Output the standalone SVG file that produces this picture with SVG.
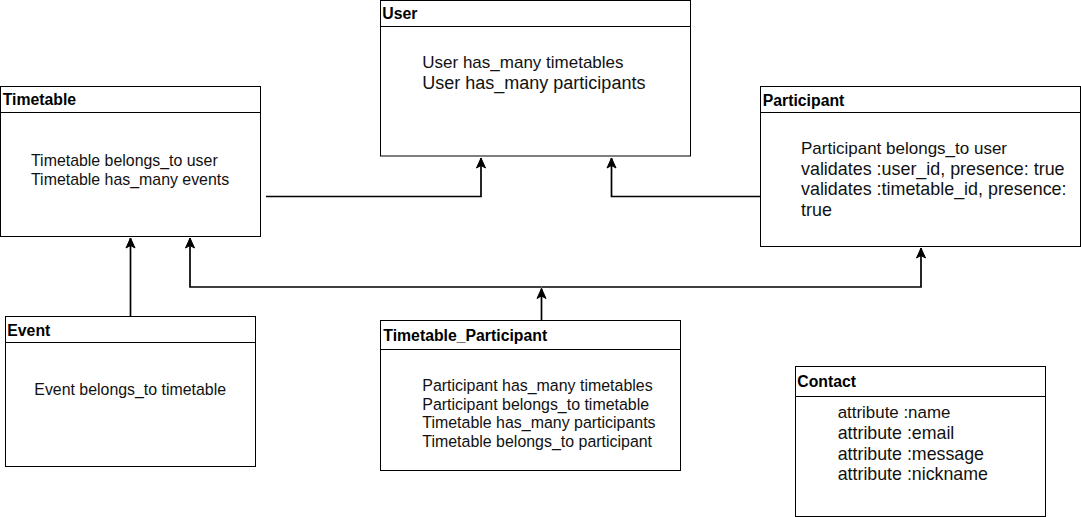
<svg xmlns="http://www.w3.org/2000/svg" width="1081" height="517" viewBox="0 0 1081 517">
<style>
.box{fill:#fff;stroke:#000;stroke-width:1}
.hdr{fill:none;stroke:#000;stroke-width:1}
.title{font-family:"Liberation Sans",Arial,sans-serif;font-weight:bold;font-size:15.8px;fill:#000}
.body{font-family:"Liberation Sans",Arial,sans-serif;fill:#111}
.edge{fill:none;stroke:#000;stroke-width:1.7}
</style>
<defs>
<marker id="arr" markerUnits="userSpaceOnUse" markerWidth="14" markerHeight="12" viewBox="-11 -6 12 12" refX="0" refY="0" orient="auto">
<path d="M0,0 L-10,-4.5 L-7.5,0 L-10,4.5 Z" fill="#000" stroke="#000" stroke-width="1"/>
</marker>
</defs>
<rect width="1081" height="517" fill="#fff"/>
<g id="connectors">
<path class="edge" d="M266,196.5 L481,196.5 L481,158" marker-end="url(#arr)"/>
<path class="edge" d="M760,196.5 L611.5,196.5 L611.5,158" marker-end="url(#arr)"/>
<path class="edge" d="M130.5,316 L130.5,238" marker-end="url(#arr)"/>
<path class="edge" d="M541.5,320 L541.5,288.5" marker-end="url(#arr)"/>
<path class="edge" d="M541.5,287 L190,287 L190,238" marker-end="url(#arr)"/>
<path class="edge" d="M541.5,287 L921,287 L921,248" marker-end="url(#arr)"/>
</g>
<g id="user">
<rect class="box" x="380.5" y="0.5" width="310" height="155.5"/>
<line class="hdr" x1="380.5" y1="26.5" x2="690.5" y2="26.5"/>
<text class="title" x="382.3" y="19.3">User</text>
<text class="body" x="422.3" y="68.3" font-size="17">User has_many timetables</text>
<text class="body" x="422.3" y="89.3" font-size="18">User has_many participants</text>
</g>
<g id="timetable">
<rect class="box" x="0.5" y="86.5" width="260" height="150"/>
<line class="hdr" x1="0.5" y1="112.5" x2="260.5" y2="112.5"/>
<text class="title" x="2.7" y="105.3">Timetable</text>
<text class="body" x="31" y="166" font-size="15.9">Timetable belongs_to user</text>
<text class="body" x="31" y="185" font-size="15.9">Timetable has_many events</text>
</g>
<g id="participant">
<rect class="box" x="760.5" y="86.5" width="320" height="160"/>
<line class="hdr" x1="760.5" y1="112.5" x2="1080.5" y2="112.5"/>
<text class="title" x="762.7" y="106">Participant</text>
<text class="body" x="801" y="154" font-size="17">Participant belongs_to user</text>
<text class="body" x="801" y="174.7" font-size="17.9">validates :user_id, presence: true</text>
<text class="body" x="801" y="195.2" font-size="17.9">validates :timetable_id, presence:</text>
<text class="body" x="801" y="216" font-size="17.9">true</text>
</g>
<g id="event">
<rect class="box" x="5.5" y="316.5" width="250" height="150"/>
<line class="hdr" x1="5.5" y1="342.5" x2="255.5" y2="342.5"/>
<text class="title" x="7.3" y="336">Event</text>
<text class="body" x="34.3" y="395" font-size="15.9">Event belongs_to timetable</text>
</g>
<g id="timetable_participant">
<rect class="box" x="380.5" y="320.5" width="300" height="150"/>
<line class="hdr" x1="380.5" y1="349.5" x2="680.5" y2="349.5"/>
<text class="title" x="383.3" y="341">Timetable_Participant</text>
<text class="body" x="422.3" y="391" font-size="15.95">Participant has_many timetables</text>
<text class="body" x="422.3" y="409.5" font-size="15.95">Participant belongs_to timetable</text>
<text class="body" x="422.3" y="428" font-size="15.95">Timetable has_many participants</text>
<text class="body" x="422.3" y="446.7" font-size="15.95">Timetable belongs_to participant</text>
</g>
<g id="contact">
<rect class="box" x="795.5" y="366.5" width="250" height="150"/>
<line class="hdr" x1="795.5" y1="396.5" x2="1045.5" y2="396.5"/>
<text class="title" x="797.3" y="387.3">Contact</text>
<text class="body" x="837.7" y="418" font-size="16.9">attribute :name</text>
<text class="body" x="837.7" y="439" font-size="17.8">attribute :email</text>
<text class="body" x="837.7" y="459.5" font-size="17.8">attribute :message</text>
<text class="body" x="837.7" y="480.3" font-size="17.8">attribute :nickname</text>
</g>
</svg>
